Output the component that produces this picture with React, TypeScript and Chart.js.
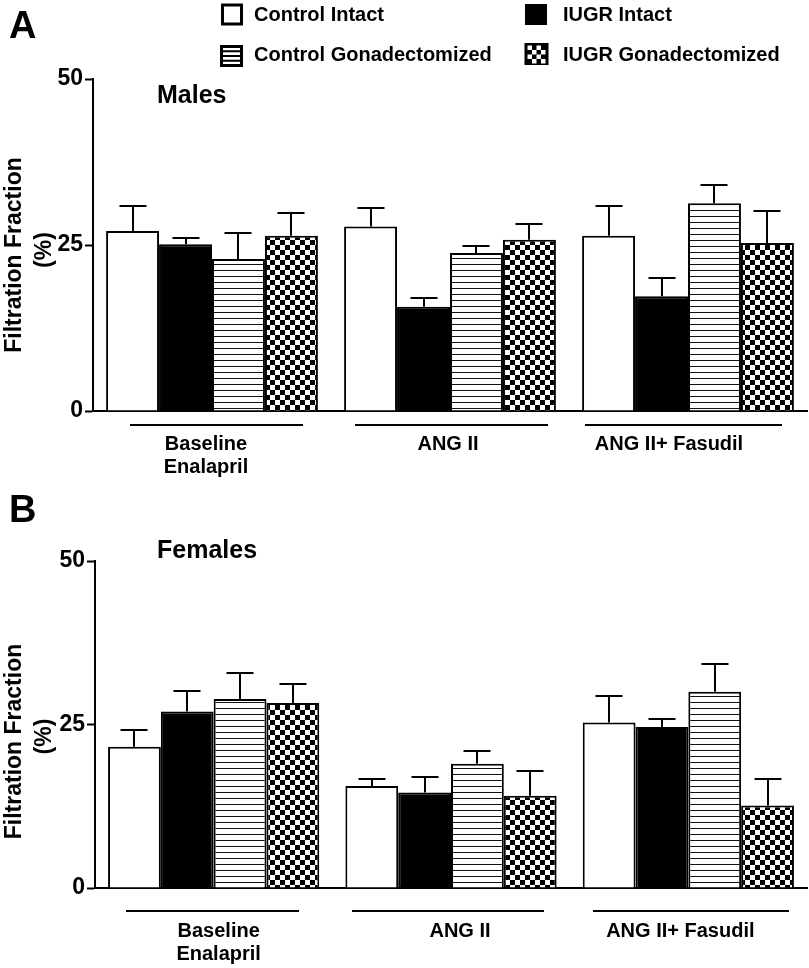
import React, { useEffect, useRef } from "react";
import { Chart, registerables } from "chart.js";

Chart.register(...registerables);

const FONT = '"Liberation Sans", Arial, Helvetica, sans-serif';

// ---- data ----
const groupLabels: string[][] = [["Baseline", "Enalapril"], ["ANG II"], ["ANG II+ Fasudil"]];
const seriesLabels = ["Control Intact", "IUGR Intact", "Control Gonadectomized", "IUGR Gonadectomized"];
const yTicks = [0, 25, 50];
const yAxisTitle = ["Filtration Fraction", "(%)"];

const malesControlIntact = [27.1, 27.8, 26.4];
const malesIugrIntact = [25.1, 15.7, 17.3];
const malesControlGdx = [22.9, 23.8, 31.3];
const malesIugrGdx = [26.4, 25.8, 25.3];
const malesControlIntactSem = [3.8, 2.7, 4.4];
const malesIugrIntactSem = [1.0, 1.3, 2.8];
const malesControlGdxSem = [3.9, 1.0, 2.8];
const malesIugrGdxSem = [3.4, 2.3, 4.8];

const femalesControlIntact = [21.6, 15.6, 25.3];
const femalesIugrIntact = [27.0, 14.6, 24.6];
const femalesControlGdx = [28.9, 19.0, 30.0];
const femalesIugrGdx = [28.3, 14.1, 12.6];
const femalesControlIntactSem = [2.6, 1.0, 4.0];
const femalesIugrIntactSem = [3.1, 2.3, 1.3];
const femalesControlGdxSem = [3.9, 1.9, 4.2];
const femalesIugrGdxSem = [2.9, 3.8, 4.0];

// ---- patterns ----
function makeStripes(ctx: CanvasRenderingContext2D) {
  const c = document.createElement("canvas");
  c.width = 8;
  c.height = 6;
  const g = c.getContext("2d")!;
  g.fillStyle = "#fff";
  g.fillRect(0, 0, 8, 6);
  g.fillStyle = "#111";
  g.fillRect(0, 0, 8, 1);
  return ctx.createPattern(c, "repeat")!;
}
function makeChecks(ctx: CanvasRenderingContext2D) {
  const c = document.createElement("canvas");
  c.width = 10;
  c.height = 10;
  const g = c.getContext("2d")!;
  g.fillStyle = "#fff";
  g.fillRect(0, 0, 10, 10);
  g.fillStyle = "#000";
  g.fillRect(0, 0, 5, 5);
  g.fillRect(5, 5, 5, 5);
  return ctx.createPattern(c, "repeat")!;
}

// ---- plugins ----
const errorBarPlugin = {
  id: "errorBars",
  afterDatasetsDraw(chart: any, _args: any, o: any) {
    const ctx = chart.ctx;
    const y = chart.scales.y;
    chart.data.datasets.forEach((ds: any, di: number) => {
      const meta = chart.getDatasetMeta(di);
      meta.data.forEach((bar: any, i: number) => {
        const v = ds.data[i];
        const e = o.errors[di][i];
        const top = y.getPixelForValue(v);
        const yy = Math.round(y.getPixelForValue(v + e));
        const bx = Math.round(bar.x);
        ctx.save();
        ctx.strokeStyle = "#000";
        ctx.lineWidth = 2;
        ctx.beginPath();
        ctx.moveTo(bx, top);
        ctx.lineTo(bx, yy);
        ctx.moveTo(bx - 13.5, yy);
        ctx.lineTo(bx + 13.5, yy);
        ctx.stroke();
        ctx.restore();
      });
    });
  },
};

function drawLegendBox(ctx: CanvasRenderingContext2D, kind: number, x: number, y: number) {
  ctx.save();
  if (kind === 0) {
    ctx.fillStyle = "#fff";
    ctx.fillRect(x, y, 22, 22);
    ctx.strokeStyle = "#000";
    ctx.lineWidth = 3;
    ctx.strokeRect(x + 1.5, y + 1.5, 19, 19);
  } else if (kind === 1) {
    ctx.fillStyle = "#000";
    ctx.fillRect(x, y, 22, 21);
  } else if (kind === 2) {
    ctx.fillStyle = "#fff";
    ctx.fillRect(x, y, 23, 22);
    ctx.strokeStyle = "#000";
    ctx.lineWidth = 3;
    ctx.strokeRect(x + 1.5, y + 1.5, 20, 19);
    ctx.lineWidth = 2;
    for (let k = 1; k <= 3; k++) {
      const yy = y + 1.5 + (19 * k) / 4;
      ctx.beginPath();
      ctx.moveTo(x + 2, yy);
      ctx.lineTo(x + 21, yy);
      ctx.stroke();
    }
  } else {
    ctx.fillStyle = "#000";
    ctx.fillRect(x, y, 24, 22);
    ctx.fillStyle = "#fff";
    const cs = 4.5;
    for (let r = 0; r < 4; r++) {
      for (let c = 0; c < 4; c++) {
        if ((r + c) % 2 === 0) ctx.fillRect(x + 3 + c * cs, y + 2.5 + r * cs, cs, cs);
      }
    }
  }
  ctx.restore();
}

const decorPlugin = {
  id: "panelDecor",
  afterDraw(chart: any, _args: any, o: any) {
    const ctx: CanvasRenderingContext2D = chart.ctx;
    const xs = chart.scales.x;
    const area = chart.chartArea;
    ctx.save();
    ctx.fillStyle = "#000";
    ctx.strokeStyle = "#000";
    ctx.textAlign = "left";
    ctx.textBaseline = "alphabetic";
    ctx.font = `bold 38px ${FONT}`;
    ctx.fillText(o.letter, 9, o.letterY);
    ctx.font = `bold 25px ${FONT}`;
    ctx.fillText(o.subtitle, 157, o.subtitleY);

    // y axis title
    const cy = (area.top + area.bottom) / 2 + o.titleShift;
    ctx.font = `bold 23px ${FONT}`;
    ctx.textAlign = "center";
    ctx.textBaseline = "middle";
    ctx.save();
    ctx.translate(15, cy);
    ctx.rotate(-Math.PI / 2);
    ctx.fillText(yAxisTitle[0], 0, 0);
    ctx.restore();
    ctx.save();
    ctx.translate(45, cy - 5);
    ctx.rotate(-Math.PI / 2);
    ctx.fillText(yAxisTitle[1], 0, 0);
    ctx.restore();

    // group brackets and labels
    ctx.textBaseline = "alphabetic";
    ctx.font = `bold 20px ${FONT}`;
    groupLabels.forEach((lines, i) => {
      const cx = xs.getPixelForValue(i);
      const [a, b] = o.brackets[i];
      ctx.lineWidth = 2;
      ctx.beginPath();
      ctx.moveTo(Math.round(cx + a), o.bracketY);
      ctx.lineTo(Math.round(cx + b), o.bracketY);
      ctx.stroke();
      lines.forEach((t, j) => ctx.fillText(t, cx + o.labelOffsets[i], o.labelY + j * 23));
    });

    // legend
    if (o.legend) {
      const slots = [
        { bx: 221, by: 3.5, tx: 254, ty: 14 },
        { bx: 525, by: 4, tx: 563, ty: 14 },
        { bx: 220, by: 45, tx: 254, ty: 54 },
        { bx: 524.5, by: 43, tx: 563, ty: 54 },
      ];
      ctx.textAlign = "left";
      ctx.textBaseline = "middle";
      ctx.font = `bold 20px ${FONT}`;
      chart.data.datasets.forEach((ds: any, i: number) => {
        const s = slots[i];
        drawLegendBox(ctx, i, s.bx, s.by);
        ctx.fillStyle = "#000";
        ctx.fillText(ds.label, s.tx, s.ty + 1);
      });
    }
    ctx.restore();
  },
};

type PanelProps = {
  top: number;
  height: number;
  chartTop: number;
  chartBottom: number;
  yAxisWidth: number;
  series: number[][];
  errors: number[][];
  decor: any;
};

function Panel(p: PanelProps) {
  const ref = useRef<HTMLCanvasElement>(null);
  useEffect(() => {
    const canvas = ref.current!;
    const ctx = canvas.getContext("2d")!;
    const fills: any[] = ["#ffffff", "#000000", makeStripes(ctx), makeChecks(ctx)];
    const chart = new Chart(canvas, {
      type: "bar",
      data: {
        labels: groupLabels.map((l) => l.join(" ")),
        datasets: seriesLabels.map((label, i) => ({
          label,
          data: p.series[i],
          backgroundColor: fills[i],
          borderColor: "#000",
          borderWidth: 2,
          borderSkipped: "bottom",
          categoryPercentage: 0.89,
          barPercentage: 1.0,
        })),
      },
      options: {
        responsive: false,
        animation: false,
        devicePixelRatio: 1,
        layout: { padding: { top: p.chartTop, right: 2, left: 0, bottom: 0 } },
        plugins: {
          legend: { display: false },
          tooltip: { enabled: false },
          title: { display: false },
          errorBars: { errors: p.errors },
          panelDecor: p.decor,
        } as any,
        scales: {
          x: {
            grid: { display: false, drawTicks: false },
            border: { display: true, color: "#000", width: 2 },
            ticks: { display: false },
            afterFit: (s: any) => {
              s.height = p.height - p.chartBottom;
            },
          },
          y: {
            min: 0,
            max: 50,
            afterBuildTicks: (s: any) => {
              s.ticks = yTicks.map((v) => ({ value: v }));
            },
            grid: { drawOnChartArea: false, drawTicks: true, tickLength: 8, tickWidth: 2, tickColor: "#000" },
            border: { display: true, color: "#000", width: 2 },
            ticks: { color: "#000", padding: 2, font: { family: FONT, size: 23, weight: "bold" } },
            afterFit: (s: any) => {
              s.width = p.yAxisWidth;
            },
          },
        },
      } as any,
      plugins: [errorBarPlugin, decorPlugin],
    });
    return () => chart.destroy();
  }, []);
  return (
    <canvas
      ref={ref}
      width={809}
      height={p.height}
      style={{ position: "absolute", left: 0, top: p.top, width: 809, height: p.height, display: "block" }}
    />
  );
}

export default function App() {
  return (
    <div style={{ position: "absolute", left: 0, top: 0, width: 809, height: 968, background: "#fff", overflow: "hidden" }}>
      <Panel
        top={0}
        height={480}
        chartTop={79}
        chartBottom={411}
        yAxisWidth={93}
        series={[malesControlIntact, malesIugrIntact, malesControlGdx, malesIugrGdx]}
        errors={[malesControlIntactSem, malesIugrIntactSem, malesControlGdxSem, malesIugrGdxSem]}
        decor={{
          letter: "A",
          letterY: 38,
          subtitle: "Males",
          subtitleY: 103,
          titleShift: 10,
          legend: true,
          bracketY: 425,
          labelY: 450,
          brackets: [[-82, 91], [-95, 98], [-103, 94]],
          labelOffsets: [-6, -2, -19],
        }}
      />
      <Panel
        top={480}
        height={488}
        chartTop={81}
        chartBottom={408}
        yAxisWidth={95}
        series={[femalesControlIntact, femalesIugrIntact, femalesControlGdx, femalesIugrGdx]}
        errors={[femalesControlIntactSem, femalesIugrIntactSem, femalesControlGdxSem, femalesIugrGdxSem]}
        decor={{
          letter: "B",
          letterY: 42,
          subtitle: "Females",
          subtitleY: 78,
          titleShift: 17,
          legend: false,
          bracketY: 431,
          labelY: 457,
          brackets: [[-88, 85], [-99, 93], [-95, 101]],
          labelOffsets: [5, 9, -8],
        }}
      />
    </div>
  );
}
